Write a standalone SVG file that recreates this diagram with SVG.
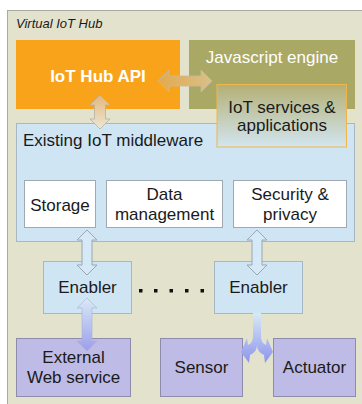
<svg xmlns="http://www.w3.org/2000/svg" width="362" height="404" viewBox="0 0 362 404">
<defs>
<linearGradient id="gSvc" x1="0" y1="0" x2="0" y2="1"><stop offset="0" stop-color="#B4AF74"/><stop offset="1" stop-color="#D2E6F0"/></linearGradient>
<linearGradient id="gH" x1="0" y1="0" x2="1" y2="0"><stop offset="0" stop-color="#E4A94E"/><stop offset="1" stop-color="#D8C08A"/></linearGradient>
<linearGradient id="gV1" x1="0" y1="0" x2="0" y2="1"><stop offset="0" stop-color="#E2B77A"/><stop offset="1" stop-color="#ECE8D8"/></linearGradient>
<linearGradient id="gV2" x1="0" y1="0" x2="0" y2="1"><stop offset="0" stop-color="#D8EAF6"/><stop offset="1" stop-color="#9C9EEA"/></linearGradient>
<linearGradient id="gFork" gradientUnits="userSpaceOnUse" x1="0" y1="313" x2="0" y2="362"><stop offset="0" stop-color="#D8EAF6"/><stop offset="1" stop-color="#8F95EC"/></linearGradient>
</defs>
<style>
text{font-family:"Liberation Sans",Arial,sans-serif;font-size:17px;fill:#1a1a1a}
.w{fill:#fff}
.b{font-weight:bold}
.c{text-anchor:middle}
.mw{fill:#CFE5F4;stroke:#A7B7C4;stroke-width:1}
.wb{fill:#fff;stroke:#9FA9B2;stroke-width:1}
.pb{fill:#BEBBE6;stroke:#8E8CAA;stroke-width:1}
.ab{stroke:#9AA6B2;stroke-width:1}
</style>
<rect x="7.5" y="10.5" width="370" height="400" fill="#E3E3CD" stroke="#A9A9A3"/>
<text x="16" y="28" style="font-size:13px;font-style:italic">Virtual IoT Hub</text>

<g id="api"><rect x="16" y="40" width="164" height="69" fill="#F9A31B"/><text class="w b c" x="98" y="82">IoT Hub API</text></g>
<g id="js"><rect x="189" y="40" width="166" height="69" fill="#A9A965"/><text class="w c" x="272" y="63">Javascript engine</text></g>

<g id="middleware"><rect class="mw" x="16.5" y="123.5" width="338" height="118"/><text x="23" y="146">Existing IoT middleware</text></g>
<g id="services"><rect x="217" y="84.5" width="129.5" height="62.5" fill="url(#gSvc)" stroke="#F2B54A"/><text class="c" x="282" y="113">IoT services &amp;</text><text class="c" x="282" y="131">applications</text></g>

<g id="storage"><rect class="wb" x="24.5" y="180.5" width="71" height="47"/><text class="c" x="60" y="211">Storage</text></g>
<g id="data"><rect class="wb" x="106.5" y="180.5" width="116" height="47"/><text class="c" x="164.5" y="200">Data</text><text class="c" x="164.5" y="220">management</text></g>
<g id="security"><rect class="wb" x="233.5" y="180.5" width="113" height="47"/><text class="c" x="290" y="200">Security &amp;</text><text class="c" x="290" y="220">privacy</text></g>

<g id="enabler1"><rect class="mw" x="43.5" y="261.5" width="88" height="52"/><text class="c" x="87.5" y="293">Enabler</text></g>
<g id="enabler2"><rect class="mw" x="214.5" y="261.5" width="88" height="52"/><text class="c" x="258.5" y="293">Enabler</text></g>
<g id="dots" fill="#111"><rect x="139" y="289" width="3.5" height="3.5"/><rect x="154" y="289" width="3.5" height="3.5"/><rect x="169.5" y="289" width="3.5" height="3.5"/><rect x="185" y="289" width="3.5" height="3.5"/><rect x="200.5" y="289" width="3.5" height="3.5"/></g>

<g id="external"><rect class="pb" x="16.5" y="338.5" width="114" height="58"/><text class="c" x="73.5" y="363">External</text><text class="c" x="73.5" y="383">Web service</text></g>
<g id="sensor"><rect class="pb" x="160.5" y="338.5" width="82" height="58"/><text class="c" x="201.5" y="373">Sensor</text></g>
<g id="actuator"><rect class="pb" x="273.5" y="338.5" width="82" height="58"/><text class="c" x="314.5" y="373">Actuator</text></g>

<g id="connectors">
<path d="M158,81 L169,70 L169,76 L201,76 L201,70 L212,81 L201,92 L201,86 L169,86 L169,92 Z" fill="url(#gH)" stroke="#C9B99A" stroke-width="0.8"/>
<path d="M100,95 L110,105 L105.5,105 L105.5,119 L110,119 L100,129 L90,119 L94.5,119 L94.5,105 L90,105 Z" fill="url(#gV1)" stroke="#B8B0A0" stroke-width="0.8"/>
<path class="ab" d="M87,230 L97,240 L92,240 L92,265 L97,265 L87,275 L77,265 L82,265 L82,240 L77,240 Z" fill="#D6E9F6"/>
<path class="ab" d="M257,230 L267,240 L262,240 L262,265 L267,265 L257,275 L247,265 L252,265 L252,240 L247,240 Z" fill="#D6E9F6"/>
<path d="M87,298 L97,308 L92,308 L92,341 L97,341 L87,351 L77,341 L82,341 L82,308 L77,308 Z" fill="url(#gV2)" stroke="#A9B0D8" stroke-width="0.6"/>
<path d="M253,313 L261,313 L261,336 Q261,343 266,345 L267,338 L273,352 L265,363 L264,355 Q257,352 257,345 Q257,352 250,355 L249,363 L241,352 L247,338 L248,345 Q253,343 253,336 Z" fill="url(#gFork)"/>
</g>
</svg>
